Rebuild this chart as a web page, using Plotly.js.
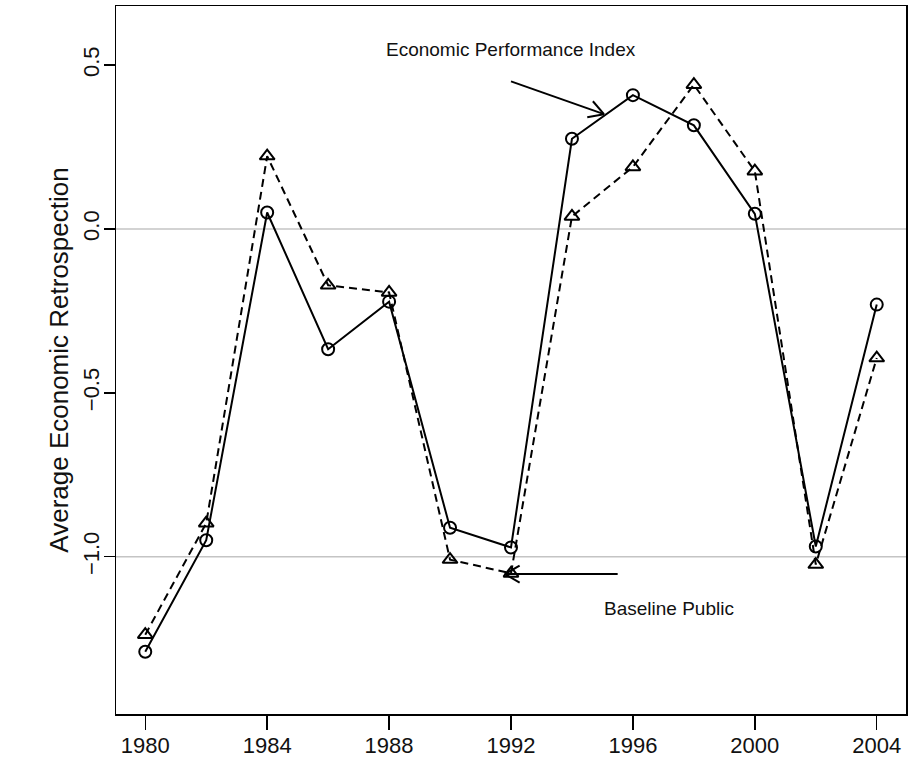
<!DOCTYPE html>
<html>
<head>
<meta charset="utf-8">
<script src="https://cdn.plot.ly/plotly-3.0.1.min.js"></script>
<style>html,body{margin:0;padding:0;background:#fff;}#chart{width:909px;height:773px;}</style>
</head>
<body>
<div id="chart"></div>
<script>
// ---- data ----
var years = [1980, 1982, 1984, 1986, 1988, 1990, 1992, 1994, 1996, 1998, 2000, 2002, 2004];
var econPerformanceIndex = [-1.29, -0.95, 0.05, -0.367, -0.222, -0.912, -0.972, 0.275, 0.408, 0.316, 0.046, -0.969, -0.231];
var baselinePublic = [-1.238, -0.898, 0.222, -0.172, -0.194, -1.009, -1.051, 0.038, 0.189, 0.440, 0.176, -1.024, -0.394];
var xTickVals = [1980, 1984, 1988, 1992, 1996, 2000, 2004];
var yTickVals = [-1.0, -0.5, 0.0, 0.5];
var yTitle = "Average Economic Retrospection";
var label1 = "Economic Performance Index";
var label2 = "Baseline Public";

// ---- layout geometry ----
var W = 909, H = 773;
var M = {l: 116, r: 3, t: 6, b: 59, pad: 0};
var xr = [1979.04, 2004.96];
var yr = [-1.48, 0.68];
var pxPerX = (W - M.l - M.r) / (xr[1] - xr[0]);
var pxPerY = (H - M.t - M.b) / (yr[1] - yr[0]);

function arrowShapes(x0, y0, x1, y1, len, angDeg) {
  var st = {color: "black", width: 2};
  var out = [{type: "line", xref: "x", yref: "y", x0: x0, y0: y0, x1: x1, y1: y1, line: st}];
  var dx = (x1 - x0) * pxPerX, dy = (y1 - y0) * pxPerY;
  var th = Math.atan2(dy, dx);
  [1, -1].forEach(function (s) {
    var a = th + Math.PI + s * angDeg * Math.PI / 180;
    out.push({type: "line", xref: "x", yref: "y", x0: x1, y0: y1,
      x1: x1 + len * Math.cos(a) / pxPerX, y1: y1 + len * Math.sin(a) / pxPerY, line: st});
  });
  return out;
}

var font = "Liberation Sans, Arial, Helvetica, sans-serif";

var traces = [
  {x: years, y: econPerformanceIndex, type: "scatter", mode: "lines+markers", name: label1,
   line: {color: "black", width: 2},
   marker: {symbol: "circle-open", size: 12, color: "black", line: {width: 2, color: "black"}}},
  {x: years, y: baselinePublic, type: "scatter", mode: "lines+markers", name: label2,
   line: {color: "black", width: 2, dash: "8px,5px"},
   marker: {symbol: "triangle-up-open", size: 13, color: "black", line: {width: 2, color: "black"}}}
];

var shapes = [
  {type: "line", xref: "paper", yref: "y", x0: 0, x1: 1, y0: 0, y1: 0, line: {color: "#c4c4c4", width: 1.5}, layer: "below"},
  {type: "line", xref: "paper", yref: "y", x0: 0, x1: 1, y0: -1, y1: -1, line: {color: "#c4c4c4", width: 1.5}, layer: "below"}
].concat(arrowShapes(1992, 0.45, 1995.05, 0.35, 17, 30))
 .concat(arrowShapes(1995.5, -1.053, 1991.8, -1.053, 17, 30));

var layout = {
  width: W, height: H, margin: M,
  paper_bgcolor: "white", plot_bgcolor: "white",
  showlegend: false,
  font: {family: font, color: "black", size: 20},
  xaxis: {range: xr, tickvals: xTickVals, tickmode: "array", ticks: "outside", ticklen: 14, tickwidth: 1.5,
    tickcolor: "black", showgrid: false, zeroline: false, showline: true, mirror: true,
    linecolor: "black", linewidth: 1.5, tickfont: {size: 22, family: font, color: "#111"}, ticklabelstandoff: -3},
  yaxis: {range: yr, tickvals: yTickVals, tickmode: "array", tickformat: ".1f", ticks: "outside", ticklen: 11, tickwidth: 1.5,
    tickcolor: "black", showgrid: false, zeroline: false, showline: true, mirror: true,
    linecolor: "black", linewidth: 1.5, tickangle: -90, tickfont: {size: 22, family: font, color: "#111"}, ticklabelstandoff: -4,
    title: {text: yTitle, font: {size: 26, family: font, color: "#111"}, standoff: 2}},
  shapes: shapes,
  annotations: [
    {x: 1992, y: 0.548, xref: "x", yref: "y", text: label1, showarrow: false, font: {size: 19, family: font, color: "#111"}},
    {x: 1997.2, y: -1.157, xref: "x", yref: "y", text: label2, showarrow: false, font: {size: 19, family: font, color: "#111"}}
  ]
};

Plotly.newPlot("chart", traces, layout, {displayModeBar: false, staticPlot: true});
</script>
</body>
</html>
